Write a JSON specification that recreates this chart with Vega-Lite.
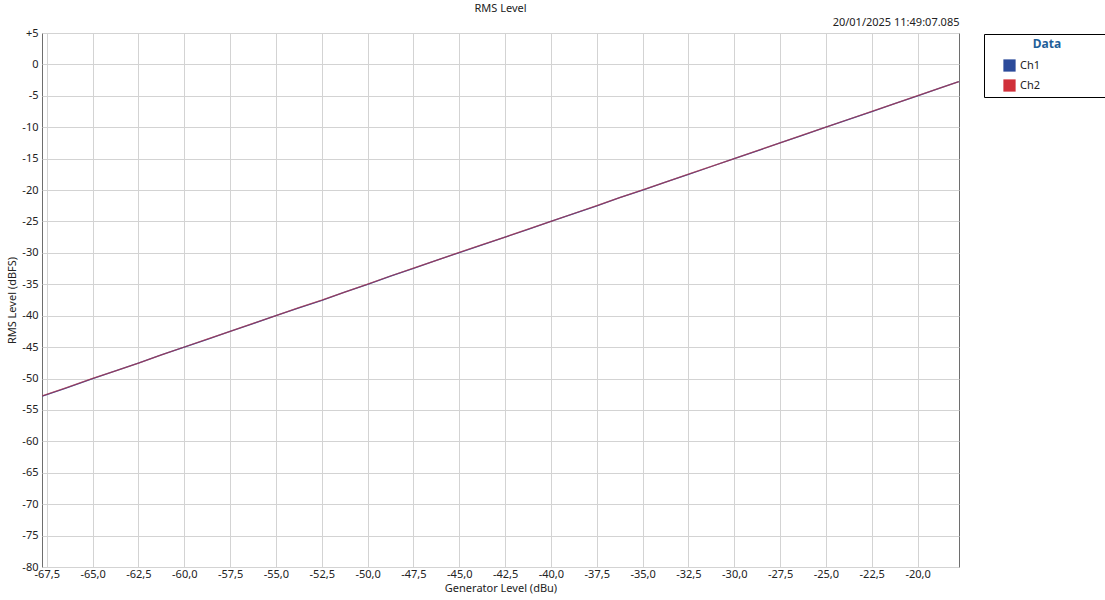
{
  "$schema": "https://vega.github.io/schema/vega-lite/v6.json",
  "width": 917,
  "height": 534,
  "autosize": {"type": "none"},
  "padding": {"left": 42, "top": 33, "right": 146, "bottom": 33},
  "background": "white",
  "config": {
    "locale": {"number": {"decimal": ",", "thousands": ".", "grouping": [3], "currency": ["", ""], "minus": "-"}},
    "font": "Noto Sans",
    "view": {"stroke": "#6e6e6e", "strokeWidth": 1},
    "axis": {"gridColor": "#d3d3d3", "gridOpacity": 1, "gridWidth": 1, "domain": false, "ticks": false, "labelFontSize": 11, "labelColor": "#222222", "titleFontSize": 11, "titleFontWeight": "normal", "titleColor": "#222222", "labelFont": "Noto Sans", "titleFont": "Noto Sans"}
  },
  "title": {"text": "RMS Level", "fontSize": 11, "fontWeight": "normal", "anchor": "middle", "frame": "group", "offset": 2, "color": "#222222", "font": "Noto Sans"},
  "data": {"values": [
    {"x": -67.75, "ch": "Ch1", "y": -52.8}, {"x": -66.5, "ch": "Ch1", "y": -51.55}, {"x": -65.0, "ch": "Ch1", "y": -50.0}, {"x": -63.75, "ch": "Ch1", "y": -48.8}, {"x": -62.5, "ch": "Ch1", "y": -47.55}, {"x": -61.25, "ch": "Ch1", "y": -46.25}, {"x": -60.0, "ch": "Ch1", "y": -45.0}, {"x": -58.75, "ch": "Ch1", "y": -43.75}, {"x": -57.5, "ch": "Ch1", "y": -42.5}, {"x": -56.25, "ch": "Ch1", "y": -41.25}, {"x": -55.0, "ch": "Ch1", "y": -40.0}, {"x": -53.75, "ch": "Ch1", "y": -38.75}, {"x": -52.5, "ch": "Ch1", "y": -37.55}, {"x": -51.25, "ch": "Ch1", "y": -36.25}, {"x": -50.0, "ch": "Ch1", "y": -35.0}, {"x": -48.75, "ch": "Ch1", "y": -33.7}, {"x": -47.5, "ch": "Ch1", "y": -32.45}, {"x": -46.25, "ch": "Ch1", "y": -31.2}, {"x": -45.0, "ch": "Ch1", "y": -29.95}, {"x": -43.75, "ch": "Ch1", "y": -28.72}, {"x": -42.5, "ch": "Ch1", "y": -27.5}, {"x": -41.25, "ch": "Ch1", "y": -26.25}, {"x": -40.0, "ch": "Ch1", "y": -25.0}, {"x": -38.75, "ch": "Ch1", "y": -23.75}, {"x": -37.5, "ch": "Ch1", "y": -22.5}, {"x": -36.25, "ch": "Ch1", "y": -21.22}, {"x": -35.0, "ch": "Ch1", "y": -20.0}, {"x": -33.75, "ch": "Ch1", "y": -18.75}, {"x": -32.5, "ch": "Ch1", "y": -17.5}, {"x": -31.25, "ch": "Ch1", "y": -16.25}, {"x": -30.0, "ch": "Ch1", "y": -15.0}, {"x": -28.75, "ch": "Ch1", "y": -13.75}, {"x": -27.5, "ch": "Ch1", "y": -12.5}, {"x": -26.25, "ch": "Ch1", "y": -11.25}, {"x": -25.0, "ch": "Ch1", "y": -10.0}, {"x": -23.75, "ch": "Ch1", "y": -8.75}, {"x": -22.5, "ch": "Ch1", "y": -7.5}, {"x": -21.25, "ch": "Ch1", "y": -6.25}, {"x": -20.0, "ch": "Ch1", "y": -5.0}, {"x": -18.75, "ch": "Ch1", "y": -3.75}, {"x": -17.75, "ch": "Ch1", "y": -2.75},
    {"x": -67.75, "ch": "Ch2", "y": -52.78}, {"x": -66.5, "ch": "Ch2", "y": -51.53}, {"x": -65.0, "ch": "Ch2", "y": -49.98}, {"x": -63.75, "ch": "Ch2", "y": -48.78}, {"x": -62.5, "ch": "Ch2", "y": -47.53}, {"x": -61.25, "ch": "Ch2", "y": -46.23}, {"x": -60.0, "ch": "Ch2", "y": -44.98}, {"x": -58.75, "ch": "Ch2", "y": -43.73}, {"x": -57.5, "ch": "Ch2", "y": -42.48}, {"x": -56.25, "ch": "Ch2", "y": -41.23}, {"x": -55.0, "ch": "Ch2", "y": -39.98}, {"x": -53.75, "ch": "Ch2", "y": -38.73}, {"x": -52.5, "ch": "Ch2", "y": -37.53}, {"x": -51.25, "ch": "Ch2", "y": -36.23}, {"x": -50.0, "ch": "Ch2", "y": -34.98}, {"x": -48.75, "ch": "Ch2", "y": -33.68}, {"x": -47.5, "ch": "Ch2", "y": -32.43}, {"x": -46.25, "ch": "Ch2", "y": -31.18}, {"x": -45.0, "ch": "Ch2", "y": -29.93}, {"x": -43.75, "ch": "Ch2", "y": -28.7}, {"x": -42.5, "ch": "Ch2", "y": -27.48}, {"x": -41.25, "ch": "Ch2", "y": -26.23}, {"x": -40.0, "ch": "Ch2", "y": -24.98}, {"x": -38.75, "ch": "Ch2", "y": -23.73}, {"x": -37.5, "ch": "Ch2", "y": -22.48}, {"x": -36.25, "ch": "Ch2", "y": -21.2}, {"x": -35.0, "ch": "Ch2", "y": -19.98}, {"x": -33.75, "ch": "Ch2", "y": -18.73}, {"x": -32.5, "ch": "Ch2", "y": -17.48}, {"x": -31.25, "ch": "Ch2", "y": -16.23}, {"x": -30.0, "ch": "Ch2", "y": -14.98}, {"x": -28.75, "ch": "Ch2", "y": -13.73}, {"x": -27.5, "ch": "Ch2", "y": -12.48}, {"x": -26.25, "ch": "Ch2", "y": -11.23}, {"x": -25.0, "ch": "Ch2", "y": -9.98}, {"x": -23.75, "ch": "Ch2", "y": -8.73}, {"x": -22.5, "ch": "Ch2", "y": -7.48}, {"x": -21.25, "ch": "Ch2", "y": -6.23}, {"x": -20.0, "ch": "Ch2", "y": -4.98}, {"x": -18.75, "ch": "Ch2", "y": -3.73}, {"x": -17.75, "ch": "Ch2", "y": -2.73}
  ]},
  "layer": [
    {
      "transform": [{"filter": "datum.ch === 'Ch1'"}],
      "mark": {"type": "line", "strokeWidth": 1.3, "clip": true},
      "encoding": {
        "x": {"field": "x", "type": "quantitative", "scale": {"domain": [-67.76, -17.74], "nice": false, "zero": false},
          "axis": {"title": "Generator Level (dBu)", "values": [-67.5, -65, -62.5, -60, -57.5, -55, -52.5, -50, -47.5, -45, -42.5, -40, -37.5, -35, -32.5, -30, -27.5, -25, -22.5, -20], "format": ".1f", "labelPadding": 1, "titlePadding": 3, "labelFlush": false}},
        "y": {"field": "y", "type": "quantitative", "scale": {"domain": [-80, 5], "nice": false, "zero": false},
          "axis": {"title": "RMS Level (dBFS)", "values": [-80, -75, -70, -65, -60, -55, -50, -45, -40, -35, -30, -25, -20, -15, -10, -5, 0, 5], "labelExpr": "datum.value > 0 ? '+' + datum.label : datum.label", "labelPadding": 4, "titlePadding": 4, "labelFlush": false, "labelOverlap": false}},
        "color": {"field": "ch", "type": "nominal", "scale": {"domain": ["Ch1", "Ch2"], "range": ["#2b4a9a", "#d0303a"]},
          "legend": {"title": "Data", "orient": "none", "legendX": 942, "legendY": 1, "strokeColor": "#000000", "fillColor": "#ffffff", "padding": 5, "symbolType": "square", "symbolSize": 150, "symbolStrokeWidth": 0, "symbolOffset": 14, "symbolOpacity": 1, "labelFontSize": 11, "labelColor": "#222222", "labelOffset": 4, "titleFontSize": 12, "titleFontWeight": "bold", "titleColor": "#1f5f99", "titleAnchor": "middle", "titlePadding": 8, "rowPadding": 7, "labelExpr": "datum.label + '\u2800\u2800\u2800\u2800\u2800\u2800\u2800\u2800'",
            "encode": {"symbols": {"update": {"fill": {"scale": "color", "field": "value"}, "stroke": {"value": "transparent"}}}}}}
      }
    },
    {
      "transform": [{"filter": "datum.ch === 'Ch2'"}],
      "mark": {"type": "line", "strokeWidth": 1.3, "opacity": 0.6, "clip": true},
      "encoding": {
        "x": {"field": "x", "type": "quantitative", "axis": {"orient": "top", "title": "20/01/2025 11:49:07.085", "titleAnchor": "end", "labels": false, "grid": false, "titlePadding": 6}},
        "y": {"field": "y", "type": "quantitative",
          "axis": {"title": "RMS Level (dBFS)", "values": [-80, -75, -70, -65, -60, -55, -50, -45, -40, -35, -30, -25, -20, -15, -10, -5, 0, 5], "labelExpr": "datum.value > 0 ? '+' + datum.label : datum.label", "labelPadding": 4, "titlePadding": 4, "labelFlush": false, "labelOverlap": false}},
        "color": {"field": "ch", "type": "nominal"}
      }
    }
  ],
  "resolve": {"axis": {"x": "independent"}}
}
